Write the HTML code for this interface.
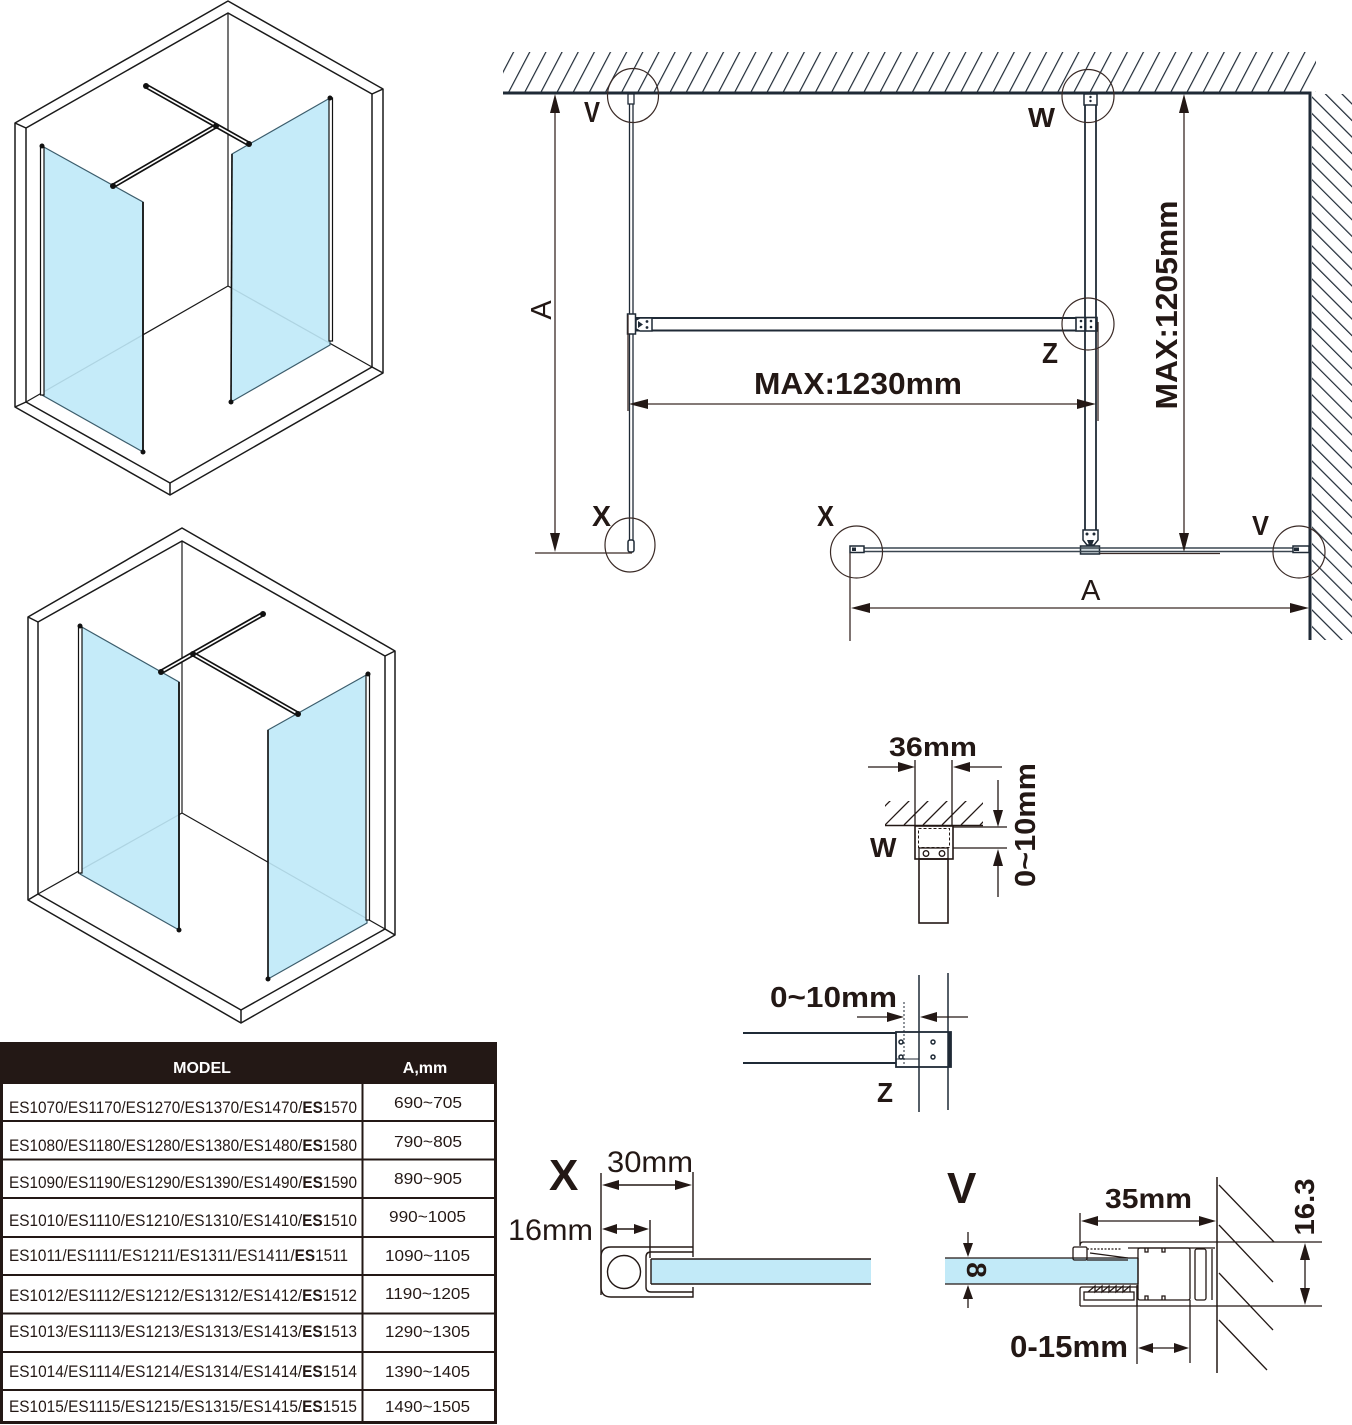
<!DOCTYPE html>
<html>
<head>
<meta charset="utf-8">
<style>
html,body{margin:0;padding:0;background:#fff;}
svg{display:block;}
text{font-family:"Liberation Sans",Arial,sans-serif;}
</style>
</head>
<body>
<svg width="1352" height="1425" viewBox="0 0 1352 1425" xmlns="http://www.w3.org/2000/svg">
<defs>
  <pattern id="hTop" patternUnits="userSpaceOnUse" width="14.3" height="20" patternTransform="rotate(27.7)">
    <line x1="7" y1="-2" x2="7" y2="22" stroke="#1f2a36" stroke-width="1.2"/>
  </pattern>
  <pattern id="hRight" patternUnits="userSpaceOnUse" width="11.7" height="20" patternTransform="rotate(-45)">
    <line x1="5" y1="-2" x2="5" y2="22" stroke="#1f2a36" stroke-width="1.2"/>
  </pattern>
  <clipPath id="cW"><rect x="885" y="801" width="98" height="24"/></clipPath>
</defs>
<rect x="0" y="0" width="1352" height="1425" fill="#fff"/>

<!-- ============ ISO 1 ============ -->
<g stroke="#1a1a1a" stroke-width="1.5" fill="none" stroke-linejoin="round">
  <polygon points="15,123 228,1 383,89 383,373 170,495 15,407"/>
  <polygon points="26,128 228,13 372,94 372,367 170,483 26,402"/>
  <path d="M15,123L26,128M383,89L372,94M383,373L372,367M170,495L170,483M15,407L26,402"/>
  <path d="M228,13V286L26,402M228,286L372,367" stroke-width="1.2"/>
</g>
<polygon points="42,146 143,202 143,452 42,395" fill="#bfe9f8" fill-opacity="0.9" stroke="#3c5d6c" stroke-width="1.2"/>
<polygon points="232,154 330,98 330,345 231,402" fill="#bfe9f8" fill-opacity="0.9" stroke="#3c5d6c" stroke-width="1.2"/>
<rect x="40.5" y="147" width="3.5" height="248" fill="#fff" stroke="#111" stroke-width="1.2"/>
<line x1="143" y1="202" x2="143" y2="452" stroke="#111" stroke-width="1.8"/>
<rect x="329" y="98" width="3.5" height="243" fill="#fff" stroke="#111" stroke-width="1.2"/>
<line x1="232" y1="154" x2="231" y2="402" stroke="#111" stroke-width="1.6"/>
<g stroke-linecap="round">
  <line x1="113" y1="186" x2="216" y2="126" stroke="#111" stroke-width="5"/>
  <line x1="113" y1="186" x2="216" y2="126" stroke="#fff" stroke-width="1.6"/>
  <line x1="146" y1="86" x2="249" y2="144" stroke="#111" stroke-width="5"/>
  <line x1="146" y1="86" x2="249" y2="144" stroke="#fff" stroke-width="1.6"/>
</g>
<g fill="#111">
  <circle cx="42" cy="146" r="2.5"/><circle cx="143" cy="452" r="2.5"/>
  <circle cx="113" cy="186" r="3"/><circle cx="216" cy="126" r="3"/>
  <circle cx="146" cy="86" r="3"/><circle cx="249" cy="144" r="3"/>
  <circle cx="330" cy="98" r="2.5"/><circle cx="231" cy="402" r="2.5"/>
</g>

<!-- ============ ISO 2 ============ -->
<g stroke="#1a1a1a" stroke-width="1.5" fill="none" stroke-linejoin="round">
  <polygon points="28,617 182,528 395,651 395,935 241,1023 28,900"/>
  <polygon points="38,622 182,541 385,656 385,929 241,1010 38,894"/>
  <path d="M28,617L38,622M395,651L385,656M395,935L385,929M241,1023L241,1010M28,900L38,894"/>
  <path d="M182,541V813L38,894M182,813L385,929" stroke-width="1.2"/>
</g>
<polygon points="80,626 179,682 179,930 80,874" fill="#bfe9f8" fill-opacity="0.9" stroke="#3c5d6c" stroke-width="1.2"/>
<polygon points="268,730 368,674 367,923 268,979" fill="#bfe9f8" fill-opacity="0.9" stroke="#3c5d6c" stroke-width="1.2"/>
<rect x="78.5" y="627" width="3.5" height="246" fill="#fff" stroke="#111" stroke-width="1.2"/>
<line x1="179" y1="682" x2="179" y2="930" stroke="#111" stroke-width="1.8"/>
<rect x="366" y="674" width="3.5" height="246" fill="#fff" stroke="#111" stroke-width="1.2"/>
<line x1="268" y1="730" x2="268" y2="979" stroke="#111" stroke-width="1.6"/>
<g stroke-linecap="round">
  <line x1="161" y1="672" x2="263" y2="614" stroke="#111" stroke-width="5"/>
  <line x1="161" y1="672" x2="263" y2="614" stroke="#fff" stroke-width="1.6"/>
  <line x1="193" y1="654" x2="298" y2="714" stroke="#111" stroke-width="5"/>
  <line x1="193" y1="654" x2="298" y2="714" stroke="#fff" stroke-width="1.6"/>
</g>
<g fill="#111">
  <circle cx="80" cy="626" r="2.5"/><circle cx="179" cy="930" r="2.5"/>
  <circle cx="161" cy="672" r="3"/><circle cx="263" cy="614" r="3"/>
  <circle cx="193" cy="654" r="3"/><circle cx="298" cy="714" r="3"/>
  <circle cx="368" cy="674" r="2.5"/><circle cx="268" cy="979" r="2.5"/>
</g>

<!-- ============ PLAN ============ -->
<rect x="503" y="52" width="813" height="40" fill="url(#hTop)"/>
<rect x="1312" y="94" width="40" height="546" fill="url(#hRight)"/>
<line x1="503" y1="93" x2="1311.5" y2="93" stroke="#1f2a36" stroke-width="3"/>
<line x1="1310" y1="92" x2="1310" y2="640" stroke="#1f2a36" stroke-width="3"/>

<g stroke="#1f2a36" fill="none">
  <line x1="629.5" y1="93" x2="629.5" y2="552" stroke-width="1.3"/>
  <line x1="633" y1="93" x2="633" y2="552" stroke-width="1.3"/>
  <rect x="628" y="94" width="6" height="10" fill="#fff" stroke-width="1.3"/>
  <rect x="628" y="540" width="6" height="12" rx="2" fill="#fff" stroke-width="1.5"/>
  <line x1="636" y1="318" x2="1076" y2="318" stroke-width="2"/>
  <line x1="636" y1="330.5" x2="1076" y2="330.5" stroke-width="2"/>
  <rect x="627.5" y="314" width="8" height="20" fill="#fff" stroke-width="1.5"/>
  <path d="M636,320 L640,318 H652 V331 H640 L636,329 Z" fill="#fff" stroke-width="1.5"/>
  <rect x="1076" y="317.5" width="21" height="13.5" fill="#fff" stroke-width="1.6"/>
  <line x1="1086" y1="317.5" x2="1086" y2="331" stroke-width="1"/>
  <line x1="1085" y1="93" x2="1085" y2="530" stroke-width="1.8"/>
  <line x1="1096" y1="93" x2="1096" y2="530" stroke-width="1.8"/>
  <rect x="1084" y="94" width="13" height="11" fill="#fff" stroke-width="1.5"/>
  <path d="M1083,530 H1098 V540 L1094,545 H1087 L1083,540 Z" fill="#fff" stroke-width="1.5"/>
  <rect x="1080.5" y="546" width="19" height="8" fill="#ccd6db" stroke-width="1.5"/>
  <line x1="850" y1="548" x2="1310" y2="548" stroke="#3a4650" stroke-width="1.4"/>
  <line x1="850" y1="551.5" x2="1310" y2="551.5" stroke="#3a4650" stroke-width="1.4"/>
  <rect x="850" y="546" width="14" height="6.5" fill="#fff" stroke-width="1.5"/>
  <rect x="1293" y="546" width="16" height="6.5" fill="#fff" stroke-width="1.5"/>
</g>
<g fill="#1f2a36">
  <circle cx="647" cy="321.5" r="1.4"/><circle cx="647" cy="327.5" r="1.4"/>
  <path d="M638,321 L643,324.5 L638,328 Z"/>
  <circle cx="1081" cy="321" r="1.3"/><circle cx="1081" cy="327" r="1.3"/>
  <circle cx="1091" cy="321" r="1.3"/><circle cx="1091" cy="327" r="1.3"/>
  <circle cx="1090.5" cy="97" r="1.2"/><circle cx="1090.5" cy="101" r="1.2"/>
  <circle cx="1087" cy="534" r="1.5"/><circle cx="1094" cy="534" r="1.5"/>
  <path d="M1087,540 H1094 L1092,545 H1089 Z"/>
  <rect x="852" y="547.5" width="4" height="3.5"/>
  <rect x="1294" y="547.5" width="5" height="3.5"/>
</g>

<g fill="none" stroke="#3a2a26" stroke-width="1.2">
  <ellipse cx="633" cy="95.5" rx="25.5" ry="27"/>
  <ellipse cx="1088" cy="96" rx="26" ry="26.5"/>
  <ellipse cx="1088" cy="324" rx="26" ry="26"/>
  <ellipse cx="630" cy="545" rx="25" ry="27"/>
  <ellipse cx="856.5" cy="552" rx="26" ry="26"/>
  <ellipse cx="1299" cy="552" rx="26" ry="26"/>
</g>

<g stroke="#3a2a26" stroke-width="1.3" fill="none">
  <line x1="555" y1="100" x2="555" y2="546"/>
  <line x1="535" y1="553" x2="632" y2="553"/>
  <line x1="628" y1="315" x2="628" y2="411"/>
  <line x1="1098" y1="322" x2="1098" y2="421"/>
  <line x1="635" y1="404" x2="1090" y2="404"/>
  <line x1="1184" y1="100" x2="1184" y2="546"/>
  <line x1="1100" y1="553.5" x2="1220" y2="553.5"/>
  <line x1="850" y1="553" x2="850" y2="641"/>
  <line x1="857" y1="608" x2="1303" y2="608"/>
</g>
<g fill="#231815">
  <polygon points="555,94 550,113 560,113"/>
  <polygon points="555,552 550,533 560,533"/>
  <polygon points="629,404 648,399 648,409"/>
  <polygon points="1096,404 1077,399 1077,409"/>
  <polygon points="1184,94 1179,113 1189,113"/>
  <polygon points="1184,552 1179,533 1189,533"/>
  <polygon points="851,608 870,603 870,613"/>
  <polygon points="1309,608 1290,603 1290,613"/>
</g>

<g fill="#231815" font-weight="bold">
  <text x="584" y="122" font-size="29" textLength="16" lengthAdjust="spacingAndGlyphs">V</text>
  <text x="1028" y="127" font-size="28" textLength="27" lengthAdjust="spacingAndGlyphs">W</text>
  <text x="1042" y="363" font-size="29" textLength="16" lengthAdjust="spacingAndGlyphs">Z</text>
  <text x="592" y="526" font-size="29" textLength="19" lengthAdjust="spacingAndGlyphs">X</text>
  <text x="817" y="526" font-size="29" textLength="17" lengthAdjust="spacingAndGlyphs">X</text>
  <text x="1252" y="535" font-size="28" textLength="17" lengthAdjust="spacingAndGlyphs">V</text>
  <text x="754" y="394" font-size="31" textLength="208" lengthAdjust="spacingAndGlyphs">MAX:1230mm</text>
  <text transform="translate(1177,305) rotate(-90)" x="0" y="0" font-size="31" text-anchor="middle" textLength="209" lengthAdjust="spacingAndGlyphs">MAX:1205mm</text>
</g>
<g fill="#231815">
  <text transform="translate(551,310) rotate(-90)" x="0" y="0" font-size="29" text-anchor="middle">A</text>
  <text x="1081" y="600" font-size="29">A</text>
</g>

<!-- ============ W DETAIL ============ -->
<g clip-path="url(#cW)" stroke="#231815" stroke-width="1.3">
  <line x1="866" y1="825" x2="891" y2="800"/>
  <line x1="885" y1="825" x2="910" y2="800"/>
  <line x1="904" y1="825" x2="929" y2="800"/>
  <line x1="923" y1="825" x2="948" y2="800"/>
  <line x1="942" y1="825" x2="967" y2="800"/>
  <line x1="961" y1="825" x2="986" y2="800"/>
  <line x1="980" y1="825" x2="1005" y2="800"/>
</g>
<g stroke="#231815" stroke-width="1.3" fill="none">
  <line x1="885" y1="825.5" x2="983" y2="825.5" stroke-width="1.6"/>
  <line x1="915" y1="760" x2="915" y2="826"/>
  <line x1="952" y1="760" x2="952" y2="826"/>
  <line x1="868" y1="767" x2="910" y2="767"/>
  <line x1="958" y1="767" x2="1002" y2="767"/>
  <line x1="953" y1="827" x2="1007" y2="827"/>
  <line x1="953" y1="848" x2="1007" y2="848"/>
  <line x1="998" y1="780" x2="998" y2="822"/>
  <line x1="998" y1="855" x2="998" y2="897"/>
  <rect x="915" y="826" width="38" height="33" stroke-width="1.6"/>
  <rect x="918.5" y="828.5" width="31" height="19" stroke-dasharray="3,2" stroke-width="1"/>
  <rect x="919" y="848" width="29" height="11" stroke-width="1.3"/>
  <rect x="919" y="859" width="29" height="64" stroke-width="1.6"/>
  <circle cx="926" cy="853.5" r="2.8"/>
  <circle cx="942" cy="853.5" r="2.8"/>
</g>
<g fill="#231815">
  <polygon points="915,767 898,762 898,772"/>
  <polygon points="953,767 970,762 970,772"/>
  <polygon points="998,827 993,810 1003,810"/>
  <polygon points="998,849 993,866 1003,866"/>
</g>
<g fill="#231815" font-weight="bold">
  <text x="889" y="756" font-size="27" textLength="88" lengthAdjust="spacingAndGlyphs">36mm</text>
  <text x="870" y="857" font-size="28">W</text>
  <text transform="translate(1035,825) rotate(-90)" x="0" y="0" font-size="29" text-anchor="middle" textLength="124" lengthAdjust="spacingAndGlyphs">0~10mm</text>
</g>

<!-- ============ Z DETAIL ============ -->
<g stroke="#1f2a36" stroke-width="1.5" fill="none">
  <line x1="919" y1="975" x2="919" y2="1112"/>
  <line x1="948" y1="973" x2="948" y2="1110"/>
  <line x1="743" y1="1033" x2="896" y2="1033" stroke-width="2"/>
  <line x1="743" y1="1063" x2="896" y2="1063" stroke-width="2"/>
  <rect x="896" y="1032" width="55" height="35" stroke-width="1.8"/>
  <line x1="950" y1="1032" x2="950" y2="1067" stroke-width="3"/>
  <line x1="904" y1="1002" x2="904" y2="1065" stroke-width="1" stroke-dasharray="2,2"/>
  <line x1="896" y1="1059" x2="919" y2="1059" stroke-width="1"/>
  <circle cx="901" cy="1042" r="2"/>
  <circle cx="901" cy="1057" r="2"/>
  <circle cx="933" cy="1042" r="2"/>
  <circle cx="933" cy="1057" r="2"/>
</g>
<g stroke="#231815" stroke-width="1.3">
  <line x1="857" y1="1017" x2="898" y2="1017"/>
  <line x1="926" y1="1017" x2="968" y2="1017"/>
</g>
<g fill="#231815">
  <polygon points="904,1017 887,1012 887,1022"/>
  <polygon points="920,1017 937,1012 937,1022"/>
</g>
<g fill="#231815" font-weight="bold">
  <text x="770" y="1007" font-size="29" textLength="127" lengthAdjust="spacingAndGlyphs">0~10mm</text>
  <text x="877" y="1102" font-size="28" textLength="16" lengthAdjust="spacingAndGlyphs">Z</text>
</g>

<!-- ============ X DETAIL ============ -->
<rect x="651" y="1259" width="220" height="25" fill="#c2eaf8"/>
<g stroke="#231815" stroke-width="1.4" fill="none">
  <line x1="651" y1="1259" x2="871" y2="1259"/>
  <line x1="651" y1="1284" x2="871" y2="1284"/>
  <line x1="651" y1="1259" x2="651" y2="1284"/>
  <path d="M693,1247 H611 Q601,1247 601,1257 V1287 Q601,1297 611,1297 H693 V1287"/>
  <path d="M693,1247 V1257"/>
  <path d="M693,1252 H651 Q646,1252 646,1257 V1287 Q646,1292 651,1292 H693"/>
  <circle cx="624" cy="1272" r="16.5"/>
  <line x1="601" y1="1173" x2="601" y2="1295"/>
  <line x1="693" y1="1172" x2="693" y2="1247"/>
  <line x1="650" y1="1220" x2="650" y2="1258"/>
  <line x1="608" y1="1185" x2="686" y2="1185"/>
  <line x1="608" y1="1229" x2="643" y2="1229"/>
</g>
<g fill="#231815">
  <polygon points="602,1185 619,1180 619,1190"/>
  <polygon points="692,1185 675,1180 675,1190"/>
  <polygon points="602,1229 617,1224 617,1234"/>
  <polygon points="649,1229 634,1224 634,1234"/>
</g>
<text x="549" y="1190" font-size="44" font-weight="bold" fill="#231815">X</text>
<text x="607" y="1172" font-size="30" fill="#231815" textLength="86" lengthAdjust="spacingAndGlyphs">30mm</text>
<text x="508" y="1240" font-size="30" fill="#231815" textLength="85" lengthAdjust="spacingAndGlyphs">16mm</text>

<!-- ============ V DETAIL ============ -->
<rect x="945" y="1258" width="193" height="26" fill="#c2eaf8"/>
<g stroke="#231815" stroke-width="1.3" fill="none">
  <line x1="945" y1="1258" x2="1138" y2="1258"/>
  <line x1="945" y1="1284" x2="1138" y2="1284"/>
  <line x1="1138" y1="1258" x2="1138" y2="1284"/>
  <line x1="1217" y1="1177" x2="1217" y2="1373" stroke-width="1.5"/>
  <line x1="1219" y1="1185" x2="1274" y2="1242"/>
  <line x1="1219" y1="1225" x2="1273" y2="1282"/>
  <line x1="1219" y1="1273" x2="1273" y2="1330"/>
  <line x1="1219" y1="1320" x2="1267" y2="1370"/>
  <line x1="1083" y1="1242" x2="1322" y2="1242"/>
  <line x1="1080" y1="1306" x2="1322" y2="1306"/>
  <path d="M1083,1242 Q1080,1242 1080,1246"/>
  <rect x="1073" y="1247" width="14" height="13" rx="1.5"/>
  <line x1="1087" y1="1249" x2="1122" y2="1249" stroke-dasharray="2,1.5"/>
  <line x1="1090" y1="1253" x2="1128" y2="1258"/>
  <line x1="1087" y1="1260" x2="1128" y2="1260"/>
  <line x1="1128" y1="1248" x2="1215" y2="1248"/>
  <path d="M1138,1250 Q1138,1248 1140,1248 H1188 Q1190,1248 1190,1250 V1298 Q1190,1300 1188,1300 H1140 Q1138,1300 1138,1298 Z"/>
  <path d="M1145,1248 v4 h3 v-4 M1162,1248 v4 h3 v-4 M1145,1300 v-4 h3 v4 M1162,1300 v-4 h3 v4"/>
  <rect x="1195" y="1249" width="11" height="51" rx="2"/>
  <line x1="1212" y1="1249" x2="1212" y2="1300"/>
  <path d="M1080,1306 V1289 Q1080,1287 1082,1287 H1137 V1306"/>
  <rect x="1084" y="1292" width="50" height="8"/>
  <polyline points="1088,1292 1095,1286 1095,1292 1102,1286 1102,1292 1109,1286 1109,1292 1116,1286 1116,1292 1123,1286 1123,1292 1130,1286 1130,1292"/>
  <line x1="1080" y1="1213" x2="1080" y2="1245"/>
  <line x1="1087" y1="1221" x2="1210" y2="1221"/>
  <line x1="1305" y1="1250" x2="1305" y2="1298"/>
  <line x1="968" y1="1232" x2="968" y2="1250"/>
  <line x1="968" y1="1292" x2="968" y2="1308"/>
  <line x1="1137" y1="1285" x2="1137" y2="1364"/>
  <line x1="1190" y1="1300" x2="1190" y2="1363"/>
  <line x1="1144" y1="1348" x2="1183" y2="1348"/>
</g>
<g fill="#231815">
  <polygon points="1081,1221 1098,1216 1098,1226"/>
  <polygon points="1216,1221 1199,1216 1199,1226"/>
  <polygon points="1305,1243 1300,1260 1310,1260"/>
  <polygon points="1305,1305 1300,1288 1310,1288"/>
  <polygon points="968,1257 963,1243 973,1243"/>
  <polygon points="968,1285 963,1299 973,1299"/>
  <polygon points="1138,1348 1153,1343 1153,1353"/>
  <polygon points="1189,1348 1174,1343 1174,1353"/>
</g>
<g fill="#231815" font-weight="bold">
  <text x="947" y="1203" font-size="44">V</text>
  <text x="1105" y="1208" font-size="28" textLength="87" lengthAdjust="spacingAndGlyphs">35mm</text>
  <text transform="translate(1314,1207) rotate(-90)" x="0" y="0" font-size="28" text-anchor="middle" textLength="57" lengthAdjust="spacingAndGlyphs">16.3</text>
  <text transform="translate(967,1270) rotate(90)" x="0" y="0" font-size="28" text-anchor="middle">8</text>
  <text x="1010" y="1357" font-size="31" textLength="118" lengthAdjust="spacingAndGlyphs">0-15mm</text>
</g>

<!-- ============ TABLE ============ -->
<rect x="1.5" y="1043.5" width="494" height="379" fill="#fff" stroke="#231815" stroke-width="3"/>
<rect x="0" y="1042" width="497" height="42" fill="#231815"/>
<g stroke="#231815" stroke-width="2">
  <line x1="362.5" y1="1084" x2="362.5" y2="1422"/>
  <line x1="0" y1="1121" x2="497" y2="1121"/>
  <line x1="0" y1="1159.5" x2="497" y2="1159.5"/>
  <line x1="0" y1="1198" x2="497" y2="1198"/>
  <line x1="0" y1="1237" x2="497" y2="1237"/>
  <line x1="0" y1="1275" x2="497" y2="1275"/>
  <line x1="0" y1="1313.5" x2="497" y2="1313.5"/>
  <line x1="0" y1="1352" x2="497" y2="1352"/>
  <line x1="0" y1="1390" x2="497" y2="1390"/>
</g>
<g fill="#fff" font-weight="bold" font-size="16" text-anchor="middle">
  <text x="202" y="1073">MODEL</text>
  <text x="425" y="1073">A,mm</text>
</g>
<g fill="#231815" font-size="17">
  <text x="9" y="1113" textLength="348" lengthAdjust="spacingAndGlyphs">ES1070/ES1170/ES1270/ES1370/ES1470/<tspan font-weight="bold">ES</tspan>1570</text>
  <text x="9" y="1151" textLength="348" lengthAdjust="spacingAndGlyphs">ES1080/ES1180/ES1280/ES1380/ES1480/<tspan font-weight="bold">ES</tspan>1580</text>
  <text x="9" y="1188" textLength="348" lengthAdjust="spacingAndGlyphs">ES1090/ES1190/ES1290/ES1390/ES1490/<tspan font-weight="bold">ES</tspan>1590</text>
  <text x="9" y="1226" textLength="348" lengthAdjust="spacingAndGlyphs">ES1010/ES1110/ES1210/ES1310/ES1410/<tspan font-weight="bold">ES</tspan>1510</text>
  <text x="9" y="1261" textLength="339" lengthAdjust="spacingAndGlyphs">ES1011/ES1111/ES1211/ES1311/ES1411/<tspan font-weight="bold">ES</tspan>1511</text>
  <text x="9" y="1301" textLength="348" lengthAdjust="spacingAndGlyphs">ES1012/ES1112/ES1212/ES1312/ES1412/<tspan font-weight="bold">ES</tspan>1512</text>
  <text x="9" y="1337" textLength="348" lengthAdjust="spacingAndGlyphs">ES1013/ES1113/ES1213/ES1313/ES1413/<tspan font-weight="bold">ES</tspan>1513</text>
  <text x="9" y="1377" textLength="348" lengthAdjust="spacingAndGlyphs">ES1014/ES1114/ES1214/ES1314/ES1414/<tspan font-weight="bold">ES</tspan>1514</text>
  <text x="9" y="1412" textLength="348" lengthAdjust="spacingAndGlyphs">ES1015/ES1115/ES1215/ES1315/ES1415/<tspan font-weight="bold">ES</tspan>1515</text>
</g>
<g fill="#231815" font-size="16">
  <text x="394" y="1108" textLength="68" lengthAdjust="spacingAndGlyphs">690~705</text>
  <text x="394" y="1147" textLength="68" lengthAdjust="spacingAndGlyphs">790~805</text>
  <text x="394" y="1184" textLength="68" lengthAdjust="spacingAndGlyphs">890~905</text>
  <text x="389" y="1222" textLength="77" lengthAdjust="spacingAndGlyphs">990~1005</text>
  <text x="385" y="1261" textLength="85" lengthAdjust="spacingAndGlyphs">1090~1105</text>
  <text x="385" y="1299" textLength="85" lengthAdjust="spacingAndGlyphs">1190~1205</text>
  <text x="385" y="1337" textLength="85" lengthAdjust="spacingAndGlyphs">1290~1305</text>
  <text x="385" y="1377" textLength="85" lengthAdjust="spacingAndGlyphs">1390~1405</text>
  <text x="385" y="1412" textLength="85" lengthAdjust="spacingAndGlyphs">1490~1505</text>
</g>
</svg>
</body>
</html>
